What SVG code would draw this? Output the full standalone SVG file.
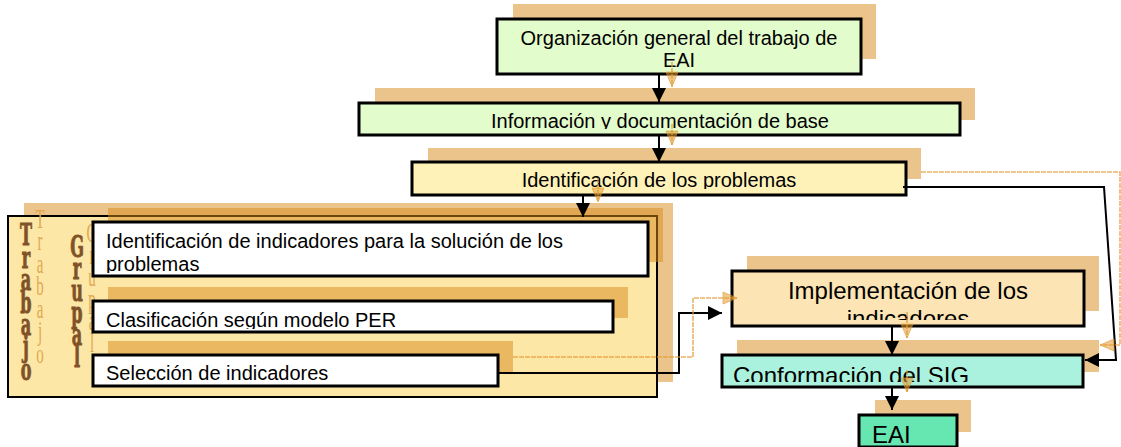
<svg xmlns="http://www.w3.org/2000/svg" width="1121" height="447" viewBox="0 0 1121 447">
<style>
.sh{fill:#d88a1a;fill-opacity:.5}
.bx{stroke:#000;stroke-width:3}
.t{font-family:"Liberation Sans",Arial,sans-serif;font-size:20px;fill:#000}
.tl{font-family:"Liberation Sans",Arial,sans-serif;font-size:24px;fill:#000}
.k{stroke:#000;stroke-width:2;fill:none}
.o{stroke:#e29a30;stroke-opacity:.75;stroke-width:1.6;fill:none;stroke-dasharray:5 1}
.oh{fill:#e29a30;fill-opacity:.55;stroke:#e29a30;stroke-opacity:.6;stroke-width:1}
.bold{font-family:"DejaVu Serif",serif;font-weight:bold;font-size:23px;fill:#7f5228;stroke:#7f5228;stroke-width:0.7}
.ghost{font-family:"Liberation Serif","Times New Roman",serif;font-size:23px;fill:#e0a850}
</style>
<defs>
<marker id="ah" markerUnits="userSpaceOnUse" markerWidth="15" markerHeight="15" refX="14" refY="7" orient="auto">
<path d="M0,0 L14,7 L0,14 z" fill="#000"/>
</marker>
<clipPath id="c2"><rect x="359" y="103" width="601" height="26"/></clipPath>
<clipPath id="c3"><rect x="412" y="162" width="494" height="27"/></clipPath>
<clipPath id="cA"><rect x="93" y="222" width="555" height="51"/></clipPath>
<clipPath id="cB"><rect x="93" y="301" width="520" height="28"/></clipPath>
<clipPath id="cD"><rect x="732" y="271" width="352" height="49"/></clipPath>
<clipPath id="cE"><rect x="722" y="355" width="361" height="27"/></clipPath>
<clipPath id="cF"><rect x="859" y="415" width="98" height="29"/></clipPath>
</defs>

<g id="n-organizacion">
<rect class="sh" x="513" y="4" width="363" height="55"/>
<rect class="bx" x="497" y="19" width="364" height="55" fill="#e3fccc"/>
<text class="t" x="679" y="45" text-anchor="middle">Organización general del trabajo de</text>
<text class="t" x="679" y="67" text-anchor="middle">EAI</text>
</g>

<g id="n-informacion">
<rect class="sh" x="375" y="88" width="600" height="32"/>
<rect class="bx" x="359" y="103" width="601" height="32" fill="#e3fccc"/>
<text class="t" x="660" y="128" text-anchor="middle" clip-path="url(#c2)">Información y documentación de base</text>
</g>

<g id="n-problemas">
<rect class="sh" x="428" y="148" width="493" height="31"/>
<rect class="bx" x="412" y="162" width="494" height="33" fill="#fef2b8"/>
<text class="t" x="659" y="187" text-anchor="middle" clip-path="url(#c3)">Identificación de los problemas</text>
</g>

<g id="n-trabajo-grupal">
<rect class="sh" x="24" y="203" width="649" height="179"/>
<rect x="8" y="216" width="649" height="181" fill="#fde7a7" stroke="#000" stroke-width="2"/>
<g transform="translate(40 0) scale(0.65 1.2)">
<text class="ghost" text-anchor="middle" x="0 0 0 0 0 0 0" y="190 208.75 227.5 246.25 265 283.75 302.5">Trabajo</text>
</g>
<g transform="translate(92 0) scale(0.65 1.2)">
<text class="ghost" text-anchor="middle" x="0 0 0 0 0 0" y="201.7 220 238.3 256.7 275 293.3">Grupal</text>
</g>
<g transform="translate(26 0) scale(0.7 1.3)">
<text class="bold" text-anchor="middle" x="0 0 0 0 0 0 0" y="188.5 205.8 223.1 240.4 257.7 275 292.3">Trabajo</text>
</g>
<g transform="translate(77 0) scale(0.7 1.3)">
<text class="bold" text-anchor="middle" x="0 0 0 0 0 0" y="197.7 214.6 231.5 248.5 265.4 282.3">Grupal</text>
</g>
</g>

<g id="n-identificacion-indicadores">
<rect class="sh" x="108" y="208" width="555" height="54"/>
<rect class="bx" x="93" y="222" width="555" height="54" fill="#fff"/>
<g clip-path="url(#cA)">
<text class="t" x="106" y="248">Identificación de indicadores para la solución de los</text>
<text class="t" x="106" y="271">problemas</text>
</g>
</g>

<g id="n-clasificacion">
<rect class="sh" x="108" y="287" width="520" height="31"/>
<rect class="bx" x="93" y="301" width="520" height="31" fill="#fff"/>
<text class="t" x="106" y="327" clip-path="url(#cB)">Clasificación según modelo PER</text>
</g>

<g id="n-seleccion">
<rect class="sh" x="108" y="341" width="405" height="31"/>
<rect class="bx" x="93" y="355" width="405" height="31" fill="#fff"/>
<text class="t" x="106" y="380">Selección de indicadores</text>
</g>

<g id="n-implementacion">
<rect class="sh" x="747" y="256" width="352" height="55"/>
<rect class="bx" x="732" y="271" width="352" height="55" fill="#fde4b5"/>
<g clip-path="url(#cD)">
<text class="tl" x="908" y="299" text-anchor="middle">Implementación de los</text>
<text class="tl" x="908" y="327" text-anchor="middle">indicadores</text>
</g>
</g>

<g id="n-conformacion">
<rect class="sh" x="737" y="340" width="362" height="32"/>
<rect class="bx" x="722" y="355" width="361" height="32" fill="#abf2de"/>
<text class="tl" x="733" y="384" clip-path="url(#cE)">Conformación del SIG</text>
</g>

<g id="n-eai">
<rect class="sh" x="875" y="400" width="96" height="32"/>
<rect class="bx" x="859" y="415" width="98" height="32" fill="#66e6b0"/>
<text class="tl" x="872" y="443" clip-path="url(#cF)">EAI</text>
</g>

<g id="connectors">
<path class="k" d="M659,75 V102" marker-end="url(#ah)"/>
<path class="k" d="M659,136 V162" marker-end="url(#ah)"/>
<path class="k" d="M583,195 V217" marker-end="url(#ah)"/>
<path class="k" d="M498,373 H679 V313 H722" marker-end="url(#ah)"/>
<path class="k" d="M903,187 H1104 L1116,360 H1085" marker-end="url(#ah)"/>
<path class="k" d="M892,326 V355" marker-end="url(#ah)"/>
<path class="k" d="M892,387 V410" marker-end="url(#ah)"/>

<path class="o" d="M672,62 V87"/>
<path class="oh" d="M666,72 L678,72 L672,87 z"/>
<path class="o" d="M672,124 V145"/>
<path class="oh" d="M666,131 L678,131 L672,145 z"/>
<path class="o" d="M598,178 V202"/>
<path class="oh" d="M592,188 L604,188 L598,202 z"/>
<path class="o" d="M513,357 H693 V298 H737"/>
<path class="oh" d="M723,292 L723,304 L737,298 z"/>
<path class="o" d="M921,172 H1120 V345 H1100"/>
<path class="oh" d="M1114,339 L1114,351 L1100,345 z"/>
<path class="o" d="M907,312 V338"/>
<path class="oh" d="M901,324 L913,324 L907,338 z"/>
<path class="o" d="M907,370 V392"/>
<path class="oh" d="M901,378 L913,378 L907,392 z"/>
</g>
</svg>
